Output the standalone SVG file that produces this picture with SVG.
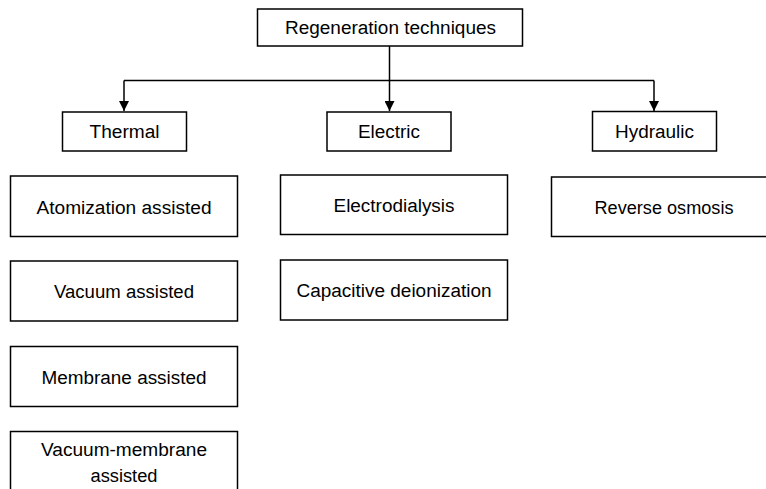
<svg xmlns="http://www.w3.org/2000/svg" width="766" height="489" viewBox="0 0 766 489">
<style>
.box{fill:#fff;stroke:#000;stroke-width:1.5}
.t{font-family:"Liberation Sans",Arial,sans-serif;font-size:18px;fill:#000;text-anchor:middle}
.c{fill:none;stroke:#000;stroke-width:1.5}
</style>
<defs>
<marker id="ah" viewBox="0 0 10 10" refX="10" refY="5" markerWidth="10" markerHeight="10" markerUnits="userSpaceOnUse" orient="auto">
<path d="M0,0 L10,5 L0,10 Z" fill="#000"/>
</marker>
</defs>
<rect width="766" height="489" fill="#fff"/>
<g id="connectors">
<path class="c" d="M389.5,46 V111" marker-end="url(#ah)"/>
<path class="c" d="M124,80.5 H654"/>
<path class="c" d="M124,80.5 V111" marker-end="url(#ah)"/>
<path class="c" d="M654,80.5 V111" marker-end="url(#ah)"/>
</g>
<g id="regeneration">
<rect class="box" x="257.5" y="9" width="265" height="37"/>
<text class="t" x="390.5" y="34" textLength="211" lengthAdjust="spacingAndGlyphs">Regeneration techniques</text>
</g>
<g id="thermal">
<rect class="box" x="62.5" y="112" width="124" height="39"/>
<text class="t" x="124.5" y="138" textLength="70" lengthAdjust="spacingAndGlyphs">Thermal</text>
</g>
<g id="electric">
<rect class="box" x="327" y="112" width="124" height="39"/>
<text class="t" x="389" y="138" textLength="62" lengthAdjust="spacingAndGlyphs">Electric</text>
</g>
<g id="hydraulic">
<rect class="box" x="592.5" y="111.5" width="124" height="39.5"/>
<text class="t" x="654.5" y="138" textLength="79" lengthAdjust="spacingAndGlyphs">Hydraulic</text>
</g>
<g id="atomization">
<rect class="box" x="10.5" y="176" width="227" height="60.5"/>
<text class="t" x="124" y="213.5" textLength="175" lengthAdjust="spacingAndGlyphs">Atomization assisted</text>
</g>
<g id="vacuum">
<rect class="box" x="10.5" y="261" width="227" height="60"/>
<text class="t" x="124" y="298" textLength="140" lengthAdjust="spacingAndGlyphs">Vacuum assisted</text>
</g>
<g id="membrane">
<rect class="box" x="10.5" y="346.5" width="227" height="60"/>
<text class="t" x="124" y="383.5" textLength="165" lengthAdjust="spacingAndGlyphs">Membrane assisted</text>
</g>
<g id="vacuum-membrane">
<rect class="box" x="10.5" y="431.5" width="227" height="80"/>
<text class="t" x="124" y="456" textLength="166" lengthAdjust="spacingAndGlyphs">Vacuum-membrane</text>
<text class="t" x="124" y="481.5" textLength="67" lengthAdjust="spacingAndGlyphs">assisted</text>
</g>
<g id="electrodialysis">
<rect class="box" x="280.5" y="175" width="227" height="59.5"/>
<text class="t" x="394" y="211.5" textLength="121" lengthAdjust="spacingAndGlyphs">Electrodialysis</text>
</g>
<g id="capacitive">
<rect class="box" x="280.5" y="260" width="227" height="60"/>
<text class="t" x="394" y="296.5" textLength="195" lengthAdjust="spacingAndGlyphs">Capacitive deionization</text>
</g>
<g id="reverse-osmosis">
<rect class="box" x="551.5" y="177" width="230" height="59.5"/>
<text class="t" x="664" y="213.5" textLength="139" lengthAdjust="spacingAndGlyphs">Reverse osmosis</text>
</g>
</svg>
